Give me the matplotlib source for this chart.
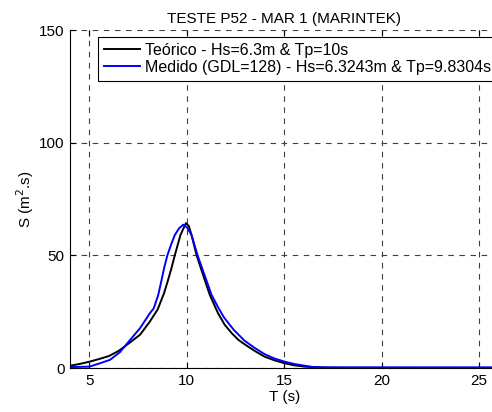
import numpy as np
import matplotlib.pyplot as plt

plt.rcParams['font.family'] = ['Liberation Sans', 'DejaVu Sans']

# espectro teorico (JONSWAP)
T_teo = [4.0, 4.5, 5.0, 5.5, 6.0, 6.5, 7.0, 7.6, 8.1, 8.5, 8.82, 9.0, 9.2, 9.38, 9.67, 9.95,
         10.1, 10.24, 10.5, 10.92, 11.18, 11.6, 11.95, 12.3, 12.63, 12.97, 13.5, 14.0,
         14.5, 15.03, 15.5, 16.05, 17.0, 18.0, 26.0]
S_teo = [1.0, 1.8, 2.8, 4.0, 5.3, 7.6, 10.8, 14.8, 20.6, 26, 33, 38, 44, 50, 59, 64.3,
         63, 59, 50, 39, 32.4, 24.3, 19.1, 15.5, 12.6, 10.5, 7.5, 5.0,
         3.4, 2.1, 1.2, 0.6, 0.2, 0.05, 0.0]

# espectro medido
T_med = [4.0, 4.5, 5.0, 5.5, 6.05, 6.56, 7.08, 7.59, 8.1, 8.3, 8.53, 8.7, 8.85, 9.0, 9.2,
         9.38, 9.6, 9.81, 10.0, 10.24, 10.55, 11.0, 11.27, 11.6, 11.9, 12.4, 12.95, 13.5,
         14.0, 14.5, 15.03, 15.5, 16.05, 16.5, 17.0, 26.0]
S_med = [0.4, 0.5, 0.6, 2.0, 3.6, 7.0, 12.4, 17.6, 24.3, 26.5, 32.4, 39, 45, 50, 55,
         59, 62, 63.6, 62.5, 59, 50, 39, 32.4, 27, 22.5, 17, 12.2, 8.8,
         6.1, 4.2, 2.8, 1.8, 1.0, 0.4, 0.3, 0.3]

fs = 11.0

fig = plt.figure(figsize=(4.92, 4.12), dpi=100)
ax = fig.add_axes([70 / 492, 44 / 412, 428.5 / 492, 338 / 412])

ax.plot(T_teo, S_teo, color='black', lw=1.4, label='Teórico - Hs=6.3m & Tp=10s')
ax.plot(T_med, S_med, color='#0000ff', lw=1.4, label='Medido (GDL=128) - Hs=6.3243m & Tp=9.8304s')

ax.set_xlim(4, 26)
ax.set_ylim(0, 150)
ax.set_xticks([5, 10, 15, 20, 25])
ax.set_yticks([0, 50, 100, 150])
ax.tick_params(direction='in', labelsize=fs, length=4, top=True, right=True, pad=4)
ax.grid(True, linestyle=(0, (5, 5)), color='#404040', lw=0.8)
ax.spines['top'].set_visible(False)
ax.set_xlabel('T (s)', fontsize=fs, labelpad=2)
ax.set_ylabel('S (m$^2$.s)', fontsize=fs, labelpad=2)
ax.set_title('TESTE P52 - MAR 1 (MARINTEK)', fontsize=fs, pad=5)

leg = ax.legend(loc='upper left', bbox_to_anchor=(98 / 492, 1 - 37 / 412),
                bbox_transform=fig.transFigure, fontsize=11.5, fancybox=False,
                framealpha=1, edgecolor='black', borderpad=0.35, handlelength=2.3,
                handletextpad=0.3, labelspacing=0.15, borderaxespad=0)
leg.get_frame().set_linewidth(0.8)

fig.savefig('out.png', dpi=100)
